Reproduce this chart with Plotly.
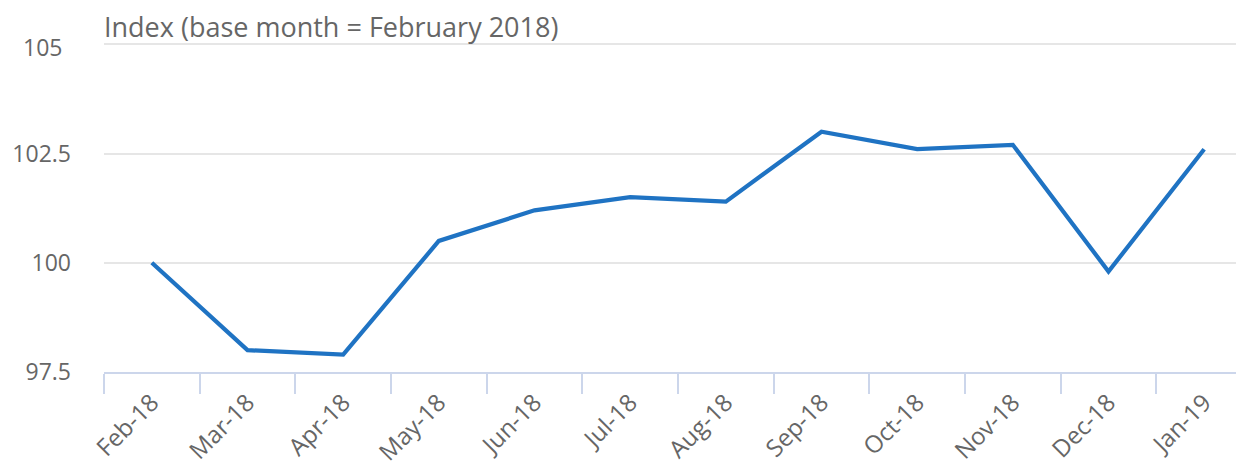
import plotly.graph_objects as go

months = ["Feb-18", "Mar-18", "Apr-18", "May-18", "Jun-18", "Jul-18",
          "Aug-18", "Sep-18", "Oct-18", "Nov-18", "Dec-18", "Jan-19"]
index_values = [100.0, 98.0, 97.9, 100.5, 101.2, 101.5,
                101.4, 103.0, 102.6, 102.7, 99.8, 102.6]
y_ticks = [97.5, 100, 102.5, 105]
y_tick_text = ["97.5", "100", "102.5", "105"]
title_text = "Index (base month = February 2018)"

FONT = "Open Sans"
TEXT = "#666666"
AXIS = "#ccd6eb"

fig = go.Figure()
fig.add_trace(go.Scatter(
    x=months, y=index_values, mode="lines",
    line=dict(color="#1f73c3", width=4.2),
    hoverinfo="x+y",
))

# top label is drawn slightly offset (as in the reference) via annotation
annotations = [dict(
    text=title_text, xref="paper", yref="paper",
    x=0, y=1, xanchor="left", yanchor="bottom",
    xshift=-2, yshift=-4, showarrow=False,
    font=dict(family=FONT, color=TEXT, size=27),
)]
annotations.append(dict(
    text=y_tick_text[-1], xref="paper", yref="y",
    x=0, y=y_ticks[-1], xanchor="right", yanchor="middle",
    xshift=-40, yshift=-3, showarrow=False,
    font=dict(family=FONT, color=TEXT, size=23),
))

fig.update_layout(
    width=1244, height=466,
    margin=dict(l=96, r=0, t=35, b=102),
    paper_bgcolor="white", plot_bgcolor="white",
    showlegend=False,
    font=dict(family=FONT, color=TEXT, size=22),
    xaxis=dict(
        type="category",
        range=[-0.5, 11.5],
        tickson="boundaries",
        ticks="outside", ticklen=20, tickwidth=2, tickcolor=AXIS,
        showline=True, linecolor=AXIS, linewidth=2,
        showgrid=False, zeroline=False,
        tickangle=-45,
        ticklabelstandoff=5,
        automargin=False,
        tickfont=dict(family=FONT, color=TEXT, size=24),
    ),
    yaxis=dict(
        range=[97.5, 105.03],
        tickvals=y_ticks, ticktext=y_tick_text[:-1] + [""],
        showgrid=True, gridcolor="#e6e6e6", gridwidth=2,
        zeroline=False, showline=False,
        ticks="", ticklabelstandoff=32,
        automargin=False,
        tickfont=dict(family=FONT, color=TEXT, size=23),
    ),
    annotations=annotations,
)

fig.write_html("out.html")
